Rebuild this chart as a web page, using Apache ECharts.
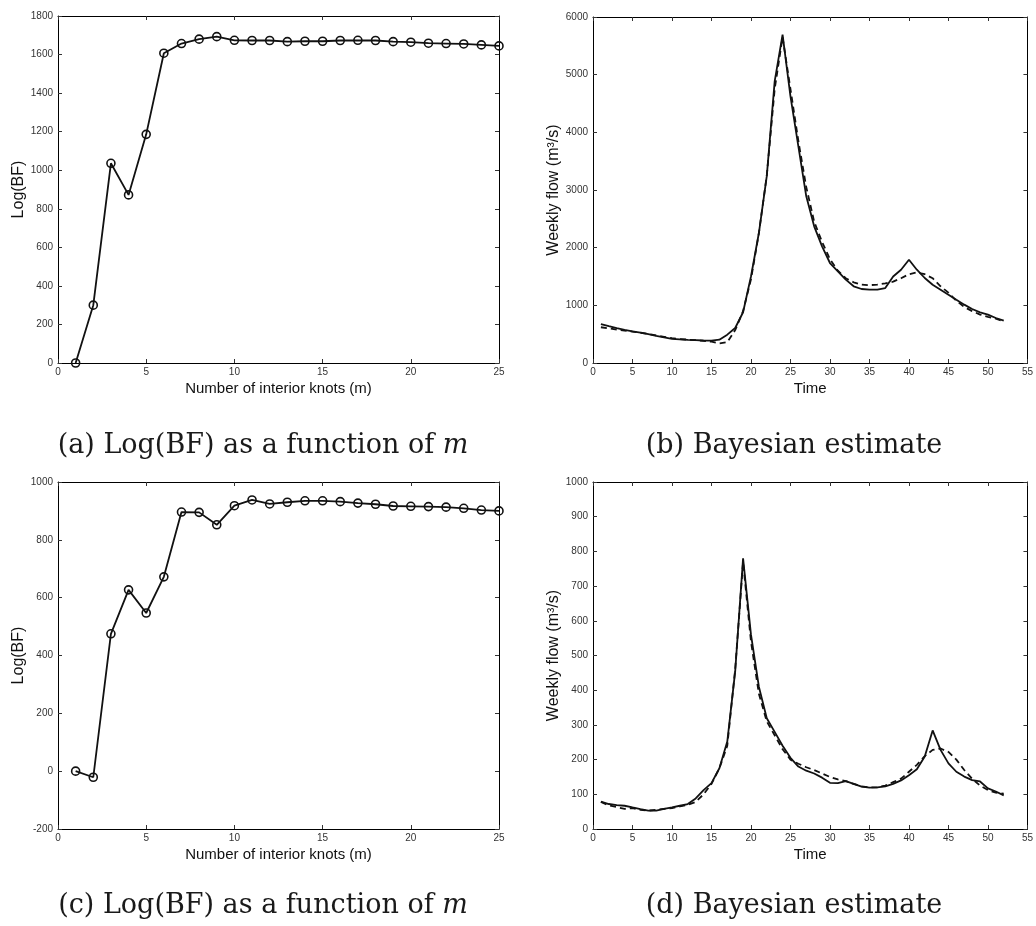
<!DOCTYPE html>
<html><head><meta charset="utf-8">
<script src="https://cdn.jsdelivr.net/npm/echarts@6/dist/echarts.min.js"></script>
<style>html,body{margin:0;padding:0;background:#fff}#c{width:1036px;height:926px}</style>
</head><body><div id="c"></div>
<script>
// Panel (a): Log(BF) vs number of interior knots
const knotsA = [1,2,3,4,5,6,7,8,9,10,11,12,13,14,15,16,17,18,19,20,21,22,23,24,25];
const logBFA = [0,300,1036,872,1186,1607,1657,1680,1693,1674,1673,1673,1667,1669,1669,1673,1674,1673,1667,1664,1659,1657,1655,1650,1645];
// Panel (c)
const knotsC = [1,2,3,4,5,6,7,8,9,10,11,12,13,14,15,16,17,18,19,20,21,22,23,24,25];
const logBFC = [0,-21,475,627,547,672,896,895,852,918,938,924,930,935,935,932,927,923,917,916,915,913,909,903,900];
// Panel (b): weekly flow, observed (solid) and Bayesian estimate (dashed)
const weeks = [1,2,3,4,5,6,7,8,9,10,11,12,13,14,15,16,17,18,19,20,21,22,23,24,25,26,27,28,29,30,31,32,33,34,35,36,37,38,39,40,41,42,43,44,45,46,47,48,49,50,51,52];
const flowB = [676,640,605,575,549,525,500,470,445,420,410,400,395,390,387,405,491,607,880,1500,2254,3240,4884,5694,4624,3757,2890,2370,2023,1734,1590,1445,1330,1283,1272,1272,1300,1500,1618,1790,1618,1474,1358,1272,1185,1098,1012,936,879,838,780,734];
const estB  = [620,600,580,560,545,525,505,480,455,430,415,405,395,385,370,340,360,570,900,1450,2250,3250,4750,5650,4750,3850,3050,2450,2100,1800,1600,1470,1400,1360,1350,1360,1380,1410,1470,1540,1570,1540,1470,1330,1220,1080,970,900,840,800,770,720];
// Panel (d)
const flowD = [79,72,69,67,62,57,53,53,58,62,67,72,88,112,132,175,252,454,780,560,410,319,280,240,205,180,168,160,148,133,132,138,130,122,119,120,123,130,140,155,172,209,284,228,189,165,151,141,137,117,108,97];
const estD  = [78,68,63,58,60,55,53,55,58,60,65,70,78,100,130,175,240,460,770,540,390,310,270,230,200,188,178,170,160,150,143,138,130,123,120,120,125,135,145,165,185,210,228,232,222,200,170,145,125,112,105,102];

const captions = ['(a) Log(BF) as a function of {i|m}','(b) Bayesian estimate','(c) Log(BF) as a function of {i|m}','(d) Bayesian estimate'];
const xNames = ['Number of interior knots (m)','Time','Number of interior knots (m)','Time'];
const yNames = ['Log(BF)','Weekly flow (m\u00b3/s)','Log(BF)','Weekly flow (m\u00b3/s)'];

const grids = [
  {left:58, top:16, width:441, height:347},
  {left:593, top:17, width:439, height:346},
  {left:58, top:482, width:441, height:347},
  {left:593, top:482, width:439, height:347}
];
const xr = [[0,25,5],[0,55,5],[0,25,5],[0,55,5]];
const yr = [[0,1800,200],[0,6000,1000],[-200,1000,200],[0,1000,100]];
const yGaps = [25,27,25,27];

const sans = 'Liberation Sans, Arial, sans-serif';
const axisLine = {show:true, onZero:false, lineStyle:{color:'#000', width:1}};
const tick = {show:true, inside:true, length:4, lineStyle:{color:'#333', width:1}};
const fmt = v => String(v);

const xAxis = [], yAxis = [];
grids.forEach((g,i)=>{
  xAxis.push({type:'value', gridIndex:i, min:xr[i][0], max:xr[i][1], interval:xr[i][2], position:'bottom',
    axisLine, axisTick:tick, splitLine:{show:false},
    axisLabel:{fontSize:10, color:'#333', fontFamily:sans, margin:4, formatter:fmt},
    name:xNames[i], nameLocation:'middle', nameGap:18,
    nameTextStyle:{fontSize:15, color:'#111', fontFamily:sans, verticalAlign:'top'}});
  xAxis.push({type:'value', gridIndex:i, min:xr[i][0], max:xr[i][1], interval:xr[i][2], position:'top',
    axisLine, axisTick:tick, splitLine:{show:false}, axisLabel:{show:false}});
  yAxis.push({type:'value', gridIndex:i, min:yr[i][0], max:yr[i][1], interval:yr[i][2], position:'left',
    axisLine, axisTick:tick, splitLine:{show:false},
    axisLabel:{fontSize:10, color:'#333', fontFamily:sans, margin:5, formatter:fmt},
    name:yNames[i], nameLocation:'middle', nameGap:yGaps[i],
    nameTextStyle:{fontSize:16, color:'#111', fontFamily:sans}});
  yAxis.push({type:'value', gridIndex:i, min:yr[i][0], max:yr[i][1], interval:yr[i][2], position:'right',
    axisLine, axisTick:tick, splitLine:{show:false}, axisLabel:{show:false}});
});

const pair = (xs, ys) => xs.map((x,k)=>[x, ys[k]]);
const knotSeries = (idx, xs, ys) => ({type:'line', xAxisIndex:idx*2, yAxisIndex:idx*2, data:pair(xs,ys),
  symbol:'circle', symbolSize:8, showSymbol:true,
  itemStyle:{color:'rgba(255,255,255,0)', borderColor:'#111', borderWidth:1.6},
  lineStyle:{color:'#111', width:1.8}, animation:false, z:3});
const flowSeries = (idx, ys, dashed) => ({type:'line', xAxisIndex:idx*2, yAxisIndex:idx*2, data:pair(weeks,ys),
  symbol:'none', lineStyle:{color:'#111', width:1.8, type: dashed ? [6,4] : 'solid'}, animation:false});

const capCenters = [[258,445],[789,445],[258,905],[789,905]];
const title = captions.map((t,i)=>({text:t, left:capCenters[i][0], top:capCenters[i][1]-18, textAlign:'center',
  textStyle:{fontFamily:'DejaVu Serif, serif', fontWeight:'normal', fontSize:27, color:'#1a1a1a',
    rich:{i:{fontFamily:'DejaVu Serif, serif', fontStyle:'italic', fontSize:27, color:'#1a1a1a'}}}}));

const chart = echarts.init(document.getElementById('c'), null, {renderer:'canvas'});
chart.setOption({
  backgroundColor:'#fff', animation:false, title,
  grid: grids, xAxis, yAxis,
  series:[
    knotSeries(0, knotsA, logBFA),
    flowSeries(1, estB, true), flowSeries(1, flowB, false),
    knotSeries(2, knotsC, logBFC),
    flowSeries(3, estD, true), flowSeries(3, flowD, false)
  ]
});
</script></body></html>
